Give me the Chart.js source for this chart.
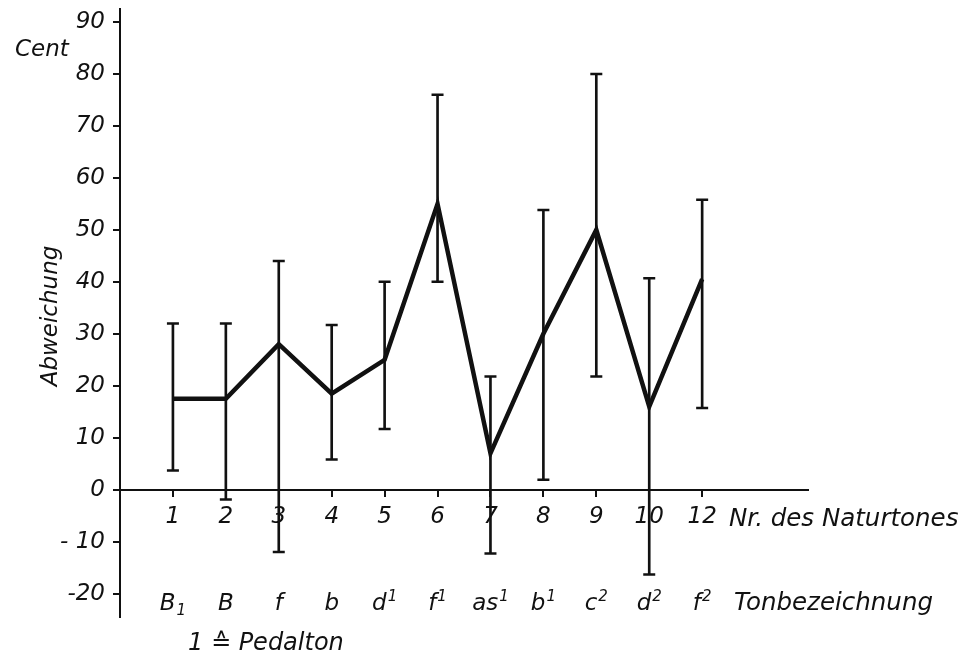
<!DOCTYPE html>
<html>
<head>
<meta charset="utf-8">
<title>Abweichung der Naturtöne</title>
<script src="https://cdn.jsdelivr.net/npm/chart.js@4.4.1/dist/chart.umd.min.js"></script>
<style>
    html, body { margin: 0; padding: 0; background: #fff; }
    #wrap { width: 964px; height: 653px; position: relative; }
</style>
</head>
<body>
<div id="wrap"><canvas id="deviationChart" width="964" height="653"></canvas></div>
<script>
// Data
const naturtonNr = ['1', '2', '3', '4', '5', '6', '7', '8', '9', '10', '12'];
const toneNames = ['B_1', 'B', 'f', 'b', 'd^1', 'f^1', 'as^1', 'b^1', 'c^2', 'd^2', 'f^2'];
const meanCent = [17.5, 17.5, 28, 18.5, 25, 55, 7, 30, 50, 16, 40.5];
const lowCent = [3.7, -1.9, -12, 5.8, 11.7, 40, -12.3, 1.9, 21.8, -16.3, 15.7];
const highCent = [32, 32, 44, 31.7, 40, 76, 21.8, 53.8, 80, 40.7, 55.8];
const yTicks = [-20, -10, 0, 10, 20, 30, 40, 50, 60, 70, 80, 90];
const yTickLabels = ['-20', '- 10', '0', '10', '20', '30', '40', '50', '60', '70', '80', '90'];

const FONT = '"DejaVu Sans", sans-serif';
const INK = '#111';

// Category i sits at x = i + 1 on a linear axis running 0..13
const pos = naturtonNr.map((_, i) => i + 1);

// Extra labels: tone names, axis titles
const labelPlugin = {
    id: 'labelPlugin',
    afterDraw(chart) {
        const ctx = chart.ctx;
        const xs = chart.scales.x;
        ctx.save();
        ctx.fillStyle = INK;
        ctx.textBaseline = 'alphabetic';

        // Tonbezeichnung row
        const baseY = 610;
        toneNames.forEach((name, i) => {
            let base = name, sup = '', sub = '';
            if (name.indexOf('^') > -1) { [base, sup] = name.split('^'); }
            if (name.indexOf('_') > -1) { [base, sub] = name.split('_'); }
            ctx.font = 'italic 23px ' + FONT;
            const wBase = ctx.measureText(base).width;
            ctx.font = 'italic 15px ' + FONT;
            const wSmall = ctx.measureText(sup || sub).width;
            const total = wBase + (wSmall ? wSmall + 1 : 0);
            const left = xs.getPixelForValue(pos[i]) - total / 2;
            ctx.textAlign = 'left';
            ctx.font = 'italic 23px ' + FONT;
            ctx.fillText(base, left, baseY);
            ctx.font = 'italic 15px ' + FONT;
            if (sup) ctx.fillText(sup, left + wBase + 1, baseY - 9);
            if (sub) ctx.fillText(sub, left + wBase + 1, baseY + 5);
        });

        ctx.font = 'italic 24.5px ' + FONT;
        ctx.textAlign = 'left';
        ctx.fillText('Tonbezeichnung', 734, baseY);
        ctx.fillText('Nr. des Naturtones', 729, 526);
        ctx.font = 'italic 24px ' + FONT;
        ctx.fillText('1 \u2259 Pedalton', 188, 650);
        ctx.font = 'italic 23px ' + FONT;
        ctx.fillText('Cent', 15, 56);

        // Vertical axis title
        ctx.translate(51, 316);
        ctx.rotate(-Math.PI / 2);
        ctx.textAlign = 'center';
        ctx.textBaseline = 'middle';
        ctx.font = 'italic 23px ' + FONT;
        ctx.fillText('Abweichung', 0, 0);
        ctx.restore();
    }
};

document.addEventListener('DOMContentLoaded', function() {
    const ctx = document.getElementById('deviationChart');

    new Chart(ctx, {
        type: 'line',
        data: {
            datasets: [
                {
                    // Mean deviation
                    type: 'line',
                    data: pos.map((x, i) => ({ x: x, y: meanCent[i] })),
                    borderColor: INK,
                    borderWidth: 4.5,
                    pointRadius: 0,
                    tension: 0,
                    borderJoinStyle: 'miter',
                    order: 0
                },
                {
                    // Spread as thin floating bars
                    type: 'bar',
                    data: pos.map((x, i) => ({ x: x, y: [lowCent[i], highCent[i]] })),
                    backgroundColor: INK,
                    borderWidth: 0,
                    barThickness: 2,
                    order: 2
                },
                {
                    // Caps of the spread
                    type: 'scatter',
                    data: pos.map((x, i) => ({ x: x, y: lowCent[i] }))
                        .concat(pos.map((x, i) => ({ x: x, y: highCent[i] }))),
                    pointStyle: 'line',
                    pointRadius: 6,
                    pointBorderWidth: 2.5,
                    borderColor: INK,
                    showLine: false,
                    order: 1
                }
            ]
        },
        options: {
            responsive: false,
            animation: false,
            events: [],
            layout: {
                padding: { top: 7, bottom: 36, left: 0, right: 156 }
            },
            plugins: {
                legend: { display: false },
                tooltip: { enabled: false }
            },
            scales: {
                x: {
                    type: 'linear',
                    position: { y: 0 },
                    min: 0,
                    max: 13,
                    offset: false,
                    afterBuildTicks: function(scale) {
                        scale.ticks = pos.map(v => ({ value: v }));
                    },
                    ticks: {
                        autoSkip: false,
                        maxRotation: 0,
                        padding: 8,
                        color: INK,
                        font: { family: FONT, size: 23, style: 'italic' },
                        callback: function(value, index) {
                            return naturtonNr[index];
                        }
                    },
                    grid: {
                        offset: false,
                        drawOnChartArea: false,
                        drawTicks: true,
                        tickLength: 6,
                        color: INK,
                        lineWidth: 2
                    },
                    border: { display: true, color: INK, width: 2 }
                },
                y: {
                    type: 'linear',
                    position: 'left',
                    min: -24.5,
                    max: 92.6,
                    afterFit: function(scale) {
                        scale.width = 120;
                        // keep the layout padding in charge of the axis ends
                        scale.paddingTop = 0;
                        scale.paddingBottom = 0;
                    },
                    afterBuildTicks: function(scale) {
                        scale.ticks = yTicks.map(v => ({ value: v }));
                    },
                    ticks: {
                        padding: 8,
                        color: INK,
                        font: { family: FONT, size: 23, style: 'italic' },
                        callback: function(value, index) {
                            return yTickLabels[index];
                        }
                    },
                    grid: {
                        drawOnChartArea: false,
                        drawTicks: true,
                        tickLength: 7,
                        color: INK,
                        lineWidth: 2
                    },
                    border: { display: true, color: INK, width: 2 }
                }
            }
        },
        plugins: [labelPlugin]
    });
});
</script>
</body>
</html>
